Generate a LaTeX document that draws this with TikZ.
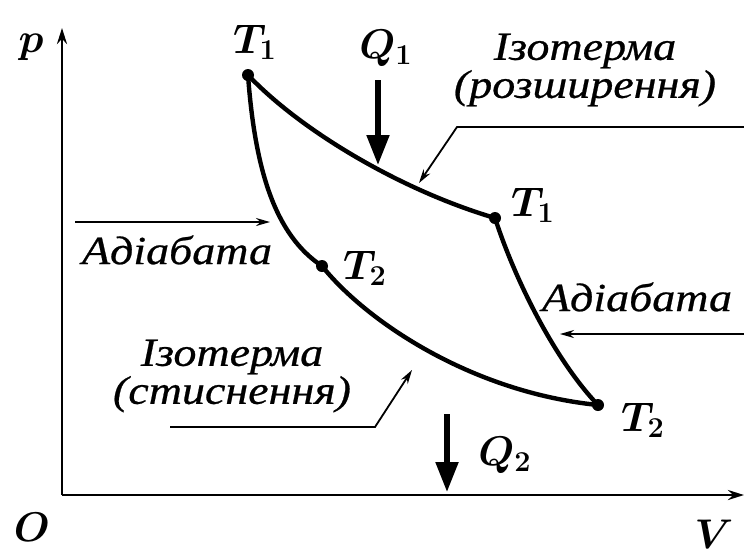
\documentclass[tikz,border=0pt]{standalone}
\usepackage{amsmath}
\usepackage{fontspec}
\newfontfamily\cyrfont[FakeStretch=1.15, FakeBold=0.6]{Liberation Serif}
\usepackage{tikz}
\usetikzlibrary{arrows.meta}

\begin{document}
\begin{tikzpicture}[x=0.5pt, y=-0.5pt,
    dot/.style={circle, fill, inner sep=0pt, minimum size=6pt},
    lbl/.style={font=\fontsize{20}{19}\selectfont\cyrfont\itshape, align=center, inner sep=0pt},
    sym/.style={font=\fontsize{22}{24}\selectfont\boldmath, inner sep=0pt},
    axis/.style={line width=1.3pt, -{Stealth[length=8pt, width=5pt]}},
    curve/.style={line width=2.2pt},
    lead/.style={line width=0.9pt, -{Stealth[length=7pt, width=4pt]}},
    heat/.style={line width=2.6pt, -{Triangle[length=15pt, width=11pt]}}]
\useasboundingbox (0,0) rectangle (744,554);

% axes
\coordinate (O) at (62,495);
\coordinate (ptop) at (62,28);
\coordinate (vend) at (744,495);
\draw[axis] (O) -- (ptop);
\draw[axis] (O) -- (vend);
\node[sym] (p) at (31,47) {$p$};
\node[sym] (o) at (32,527) {$O$};
\node[sym] (v) at (714,534) {$V$};

% cycle points
\node[dot] (A) at (248,75) {};
\node[dot] (B) at (495,218) {};
\node[dot] (C) at (598,405) {};
\node[dot] (D) at (322,266) {};
\node[sym] (tA) at (255,42) {$T_1$};
\node[sym] (tB) at (533,205) {$T_1$};
\node[sym] (tC) at (643,420) {$T_2$};
\node[sym] (tD) at (365,268) {$T_2$};

% cycle curves
\draw[curve] (A.center) .. controls (300,130) and (400,190) .. (B.center);
\draw[curve] (B.center) .. controls (515,280) and (555,360) .. (C.center);
\draw[curve] (D.center) .. controls (365,320) and (470,392) .. (C.center);
\draw[curve] (A.center) .. controls (255,170) and (275,235) .. (D.center);

% heat
\coordinate (q1s) at (378,80);
\coordinate (q1e) at (378,165);
\coordinate (q2s) at (447,414);
\coordinate (q2e) at (447,492);
\draw[heat] (q1s) -- (q1e);
\draw[heat] (q2s) -- (q2e);
\node[sym] (q1) at (386,48) {$Q_1$};
\node[sym] (q2) at (505,455) {$Q_2$};

% labels
\node[lbl] (isoE) at (585,70) {Ізотерма\\(розширення)};
\node[lbl] (isoC) at (232,376) {Ізотерма\\(стиснення)};
\node[lbl] (adL) at (177,250) {Адіабата};
\node[lbl] (adR) at (637,297) {Адіабата};

% leaders
\coordinate (isoEa) at (744,127);
\coordinate (isoEb) at (457,127);
\coordinate (isoEc) at (419,183);
\draw[lead] (isoEa) -- (isoEb) -- (isoEc);
\coordinate (isoCa) at (170,427);
\coordinate (isoCb) at (375,427);
\coordinate (isoCc) at (412,370);
\draw[lead] (isoCa) -- (isoCb) -- (isoCc);
\coordinate (adLa) at (75,222);
\coordinate (adLb) at (270,222);
\draw[lead] (adLa) -- (adLb);
\coordinate (adRa) at (744,334);
\coordinate (adRb) at (560,334);
\draw[lead] (adRa) -- (adRb);
\end{tikzpicture}
\end{document}
